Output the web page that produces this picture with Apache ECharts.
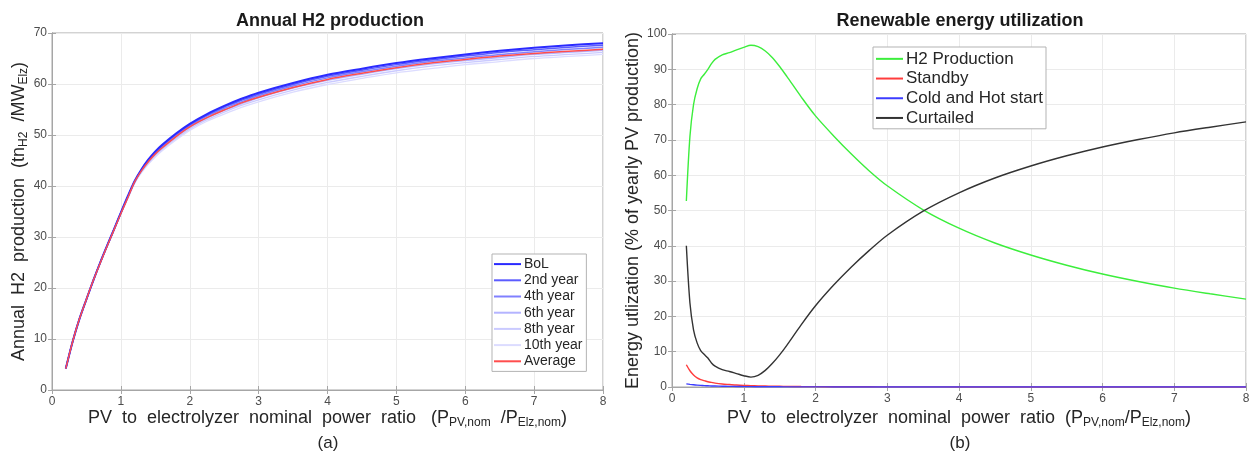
<!doctype html>
<html>
<head>
<meta charset="UTF-8" />
<title>H2 production / energy utilization</title>
<script src="https://cdn.jsdelivr.net/npm/echarts@6/dist/echarts.min.js"></script>
<style>
  html, body { margin: 0; padding: 0; background: #fff; }
  #main { width: 1253px; height: 452px; }
</style>
</head>
<body>
<div id="main"></div>
<script>
// ---- data ----
// (a) Annual H2 production, tn_H2 / MW_Elz
var xA = [0.2, 0.3, 0.4, 0.5, 0.6, 0.7, 0.8, 0.9, 1.0, 1.1, 1.2, 1.3, 1.4, 1.5, 1.6, 1.8, 2.0, 2.25, 2.5, 2.75, 3, 3.5, 4, 4.5, 5, 5.5, 6, 6.5, 7, 7.5, 8];
var bol     = [4.2, 9.5, 14.0, 17.8, 21.5, 25.0, 28.3, 31.5, 34.8, 38.0, 41.0, 43.3, 45.2, 46.8, 48.1, 50.3, 52.2, 54.1, 55.7, 57.1, 58.3, 60.2, 61.8, 63.0, 64.1, 65.0, 65.8, 66.5, 67.1, 67.6, 68.0];
var year2   = [4.2, 9.5, 14.0, 17.8, 21.5, 25.0, 28.3, 31.5, 34.8, 37.9, 40.9, 43.2, 45.1, 46.6, 47.9, 50.1, 52.0, 53.9, 55.5, 56.8, 58.0, 59.9, 61.5, 62.7, 63.8, 64.7, 65.5, 66.2, 66.7, 67.2, 67.6];
var year4   = [4.2, 9.5, 14.0, 17.8, 21.5, 25.0, 28.3, 31.5, 34.7, 37.8, 40.8, 43.1, 44.9, 46.4, 47.7, 49.9, 51.8, 53.7, 55.2, 56.5, 57.7, 59.6, 61.2, 62.4, 63.5, 64.4, 65.1, 65.8, 66.3, 66.8, 67.2];
var year6   = [4.2, 9.5, 14.0, 17.8, 21.4, 24.9, 28.2, 31.4, 34.6, 37.7, 40.7, 42.9, 44.7, 46.2, 47.4, 49.6, 51.5, 53.3, 54.8, 56.1, 57.3, 59.2, 60.7, 61.9, 63.0, 63.9, 64.6, 65.2, 65.8, 66.2, 66.6];
var year8   = [4.2, 9.5, 14.0, 17.7, 21.4, 24.9, 28.2, 31.4, 34.6, 37.6, 40.6, 42.8, 44.5, 46.0, 47.2, 49.3, 51.2, 53.0, 54.5, 55.8, 56.9, 58.8, 60.3, 61.5, 62.6, 63.5, 64.2, 64.8, 65.4, 65.8, 66.2];
var year10  = [4.2, 9.5, 14.0, 17.7, 21.4, 24.9, 28.2, 31.3, 34.5, 37.5, 40.5, 42.6, 44.3, 45.7, 46.9, 49.0, 50.9, 52.7, 54.1, 55.4, 56.5, 58.4, 59.9, 61.1, 62.2, 63.0, 63.8, 64.4, 65.0, 65.4, 65.8];
var average = [4.2, 9.5, 14.0, 17.8, 21.5, 24.9, 28.2, 31.4, 34.6, 37.7, 40.8, 43.0, 44.8, 46.3, 47.5, 49.7, 51.6, 53.4, 54.9, 56.3, 57.4, 59.3, 60.9, 62.1, 63.2, 64.1, 64.8, 65.5, 66.0, 66.4, 66.8];

// (b) Renewable energy utilization, % of yearly PV production
var xB = [0.2, 0.25, 0.3, 0.35, 0.4, 0.45, 0.5, 0.55, 0.6, 0.7, 0.8, 0.9, 1.0, 1.1, 1.2, 1.3, 1.4, 1.5, 1.6, 1.8, 2.0, 2.25, 2.5, 2.75, 3, 3.5, 4, 4.5, 5, 5.5, 6, 6.5, 7, 7.5, 8];
var h2Prod    = [52.7, 71.0, 80.0, 84.5, 87.3, 88.6, 90.0, 91.6, 92.8, 94.1, 94.7, 95.5, 96.2, 96.8, 96.4, 95.2, 93.3, 90.8, 88.0, 82.2, 76.8, 71.2, 66.0, 61.2, 57.0, 50.2, 45.0, 40.8, 37.4, 34.5, 32.0, 29.9, 28.0, 26.4, 24.9];
var standby   = [6.3, 4.6, 3.4, 2.6, 2.1, 1.8, 1.5, 1.3, 1.1, 0.85, 0.7, 0.55, 0.45, 0.38, 0.32, 0.27, 0.23, 0.2, 0.17, 0.13, 0.1, 0.08, 0.06, 0.05, 0.04, 0.03, 0.02, 0.02, 0.01, 0.01, 0.01, 0.01, 0.01, 0.01, 0.01];
var coldHot   = [0.9, 0.75, 0.62, 0.52, 0.45, 0.4, 0.35, 0.3, 0.27, 0.22, 0.18, 0.15, 0.12, 0.1, 0.08, 0.07, 0.06, 0.05, 0.04, 0.03, 0.03, 0.02, 0.02, 0.01, 0.01, 0.01, 0.01, 0.01, 0.01, 0.01, 0.01, 0.01, 0.01, 0.01, 0.01];
var curtailed = [40.0, 23.8, 16.2, 12.5, 10.3, 9.2, 8.2, 6.8, 5.9, 4.9, 4.4, 3.8, 3.2, 2.8, 3.3, 4.7, 6.7, 9.1, 11.8, 17.6, 23.0, 28.8, 34.0, 38.7, 43.0, 49.8, 55.0, 59.2, 62.6, 65.5, 68.0, 70.1, 72.0, 73.6, 75.1];

var xTicks = [0, 1, 2, 3, 4, 5, 6, 7, 8];

var FONT = '"Liberation Sans", Arial, sans-serif';
var TXT = '#262626';

function pairs(xs, ys) {
    return xs.map(function (x, i) { return [x, ys[i]]; });
}

// rich styles for names with subscripts
var nameRich = {
    t: { fontSize: 18, fontFamily: FONT, color: TXT, lineHeight: 22 },
    s: { fontSize: 12, fontFamily: FONT, color: TXT, lineHeight: 12, verticalAlign: 'bottom' }
};

function xAxisFor(gridIndex, name, gap) {
    return [{
        gridIndex: gridIndex, type: 'value', min: 0, max: 8, interval: 1,
        name: name, nameLocation: 'middle', nameGap: gap, nameMoveOverlap: false,
        nameTextStyle: { rich: nameRich },
        axisLine: { lineStyle: { color: '#a6a6a6' } },
        axisTick: { inside: true, length: 4, lineStyle: { color: '#a6a6a6' } },
        axisLabel: { color: '#4d4d4d', fontSize: 12, fontFamily: FONT, margin: 6,
            formatter: function (v) { return xTicks.indexOf(v) >= 0 ? String(v) : ''; } },
        splitLine: { show: true, lineStyle: { color: '#ebebeb' } }
    }, {
        gridIndex: gridIndex, type: 'value', min: 0, max: 8, interval: 1, position: 'top',
        axisLine: { lineStyle: { color: '#a6a6a6' } },
        axisTick: { inside: true, length: 4, lineStyle: { color: '#a6a6a6' } },
        axisLabel: { show: false }, splitLine: { show: false }
    }];
}

function yAxisFor(gridIndex, max, name, gap) {
    return [{
        gridIndex: gridIndex, type: 'value', min: 0, max: max, interval: 10,
        name: name, nameLocation: 'middle', nameGap: gap, nameRotate: 90, nameMoveOverlap: false,
        nameTextStyle: { rich: nameRich },
        axisLine: { show: true, lineStyle: { color: '#a6a6a6' } },
        axisTick: { show: true, inside: true, length: 4, lineStyle: { color: '#a6a6a6' } },
        axisLabel: { color: '#4d4d4d', fontSize: 12, fontFamily: FONT, margin: 5 },
        splitLine: { show: true, lineStyle: { color: '#ebebeb' } }
    }, {
        gridIndex: gridIndex, type: 'value', min: 0, max: max, interval: 10, position: 'right',
        axisLine: { show: true, lineStyle: { color: '#a6a6a6' } },
        axisTick: { show: true, inside: true, length: 4, lineStyle: { color: '#a6a6a6' } },
        axisLabel: { show: false }, splitLine: { show: false }
    }];
}

function line(name, xs, ys, color, width, xi, yi, z) {
    return {
        name: name, type: 'line', xAxisIndex: xi, yAxisIndex: yi,
        data: pairs(xs, ys), symbol: 'none', smooth: 0.3, z: z || 2,
        lineStyle: { color: color, width: width }, itemStyle: { color: color },
        emphasis: { disabled: true }, animation: false
    };
}

var chart = echarts.init(document.getElementById('main'));

var option = {
    backgroundColor: '#fff',
    animation: false,
    title: [
        { text: 'Annual H2 production', left: 325, top: 7, textAlign: 'center',
          textStyle: { fontSize: 18, fontWeight: 'bold', color: '#1a1a1a', fontFamily: FONT } },
        { text: 'Renewable energy utilization', left: 955, top: 7, textAlign: 'center',
          textStyle: { fontSize: 18, fontWeight: 'bold', color: '#1a1a1a', fontFamily: FONT } },
        { text: '(a)', left: 323, top: 430, textAlign: 'center',
          textStyle: { fontSize: 17, fontWeight: 'normal', color: TXT, fontFamily: FONT } },
        { text: '(b)', left: 955, top: 430, textAlign: 'center',
          textStyle: { fontSize: 17, fontWeight: 'normal', color: TXT, fontFamily: FONT } }
    ],
    grid: [
        { left: 52, top: 33, right: 650, bottom: 62, show: true, borderColor: '#a6a6a6', borderWidth: 1 },
        { left: 672, top: 34, right: 7, bottom: 65, show: true, borderColor: '#a6a6a6', borderWidth: 1 }
    ],
    legend: [{
        orient: 'vertical', left: 492, top: 254, icon: 'rect',
        data: ['BoL', '2nd year', '4th year', '6th year', '8th year', '10th year', 'Average'],
        itemWidth: 27, itemHeight: 2, itemGap: 0,
        padding: [2, 4, 2, 2], borderColor: '#b3b3b3', borderWidth: 1, backgroundColor: '#fff',
        textStyle: { fontSize: 14, lineHeight: 16.2, color: TXT, fontFamily: FONT, padding: [0, 0, 0, -2] }
    }, {
        orient: 'vertical', left: 873, top: 47, icon: 'rect',
        data: ['H2 Production', 'Standby', 'Cold and Hot start', 'Curtailed'],
        itemWidth: 27, itemHeight: 2, itemGap: 0,
        padding: [2, 3, 1, 3], borderColor: '#b3b3b3', borderWidth: 1, backgroundColor: '#fff',
        textStyle: { fontSize: 17, lineHeight: 19.7, color: TXT, fontFamily: FONT, padding: [0, 0, 0, -2] }
    }],
    xAxis: xAxisFor(0, '{t|PV  to  electrolyzer  nominal  power  ratio   (P}{s|PV,nom}{t|  /P}{s|Elz,nom}{t|)}', 17)
        .concat(xAxisFor(1, '{t|PV  to  electrolyzer  nominal  power  ratio  (P}{s|PV,nom}{t|/P}{s|Elz,nom}{t|)}', 20)),
    yAxis: yAxisFor(0, 70, '{t|Annual  H2  production  (tn}{s|H2}{t|  /MW}{s|Elz}{t|)}', 22)
        .concat(yAxisFor(1, 100, '{t|Energy utlization (% of yearly PV production)}', 28)),
    series: [
        line('10th year', xA, year10, '#dcdcff', 1.3, 0, 0, 2),
        line('8th year', xA, year8, '#cacaff', 1.3, 0, 0, 3),
        line('6th year', xA, year6, '#b4b4ff', 1.3, 0, 0, 4),
        line('4th year', xA, year4, '#8080ff', 1.5, 0, 0, 5),
        line('2nd year', xA, year2, '#5c5cff', 1.5, 0, 0, 6),
        line('BoL', xA, bol, '#2a2aff', 2, 0, 0, 7),
        line('Average', xA, average, '#ff4d4d', 1.5, 0, 0, 8),
        line('H2 Production', xB, h2Prod, '#3cee3c', 1.4, 2, 2),
        line('Standby', xB, standby, '#ff3c3c', 1.4, 2, 2),
        line('Cold and Hot start', xB, coldHot, '#3c3cff', 1.4, 2, 2),
        line('Curtailed', xB, curtailed, '#333333', 1.4, 2, 2)
    ]
};

chart.setOption(option);
</script>
</body>
</html>
